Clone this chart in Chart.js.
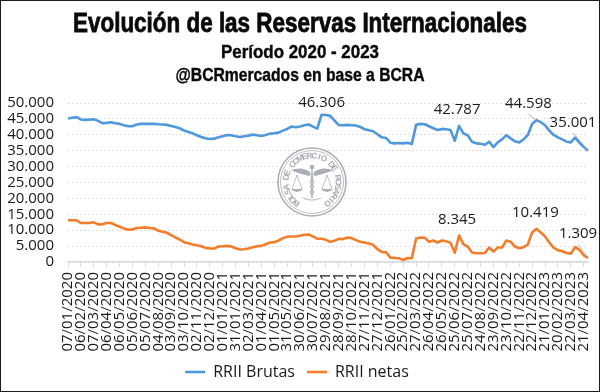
<!DOCTYPE html>
<html><head><meta charset="utf-8">
<style>html,body{margin:0;padding:0;background:#fff}#w{position:relative;width:600px;height:392px}canvas{position:absolute;left:0;top:0}#f{position:absolute;inset:0;border:1.5px solid #1c1c1c;box-sizing:border-box;pointer-events:none}</style>
<script src="https://cdn.jsdelivr.net/npm/chart.js@4"></script></head>
<body><div id="w"><canvas id="c" width="600" height="392"></canvas><div id="f"></div></div>
<script>
const tickLabels=["07/01/2020","06/02/2020","07/03/2020","06/04/2020","06/05/2020","05/06/2020","05/07/2020","04/08/2020","03/09/2020","03/10/2020","02/11/2020","02/12/2020","01/01/2021","31/01/2021","02/03/2021","01/04/2021","01/05/2021","31/05/2021","30/06/2021","30/07/2021","29/08/2021","28/09/2021","28/10/2021","27/11/2021","27/12/2021","26/01/2022","25/02/2022","27/03/2022","26/04/2022","26/05/2022","25/06/2022","25/07/2022","24/08/2022","23/09/2022","23/10/2022","22/11/2022","22/12/2022","21/01/2023","20/02/2023","22/03/2023","21/04/2023"];
const brutas=[45127,45338,45550,44810,44704,44757,44915,44387,43647,43753,43964,43647,43436,43013,42696,42696,43224,43436,43436,43436,43489,43330,43224,43119,42801,42484,42061,41322,40899,40476,39842,39313,38890,38679,38785,39207,39525,39948,39842,39525,39313,39525,39736,
40053,39842,39630,39948,40370,40476,40687,41322,41850,42590,42379,42590,43013,43224,42590,41956,46306,46250,45950,44500,43013,43013,43119,43013,42907,42484,41745,41427,41110,40159,39208,38996,37516,37305,37410,37305,37516,37093,
43119,43436,43330,42696,42061,41533,41850,41745,41533,38150,42787,40476,39842,37833,37305,37199,36882,37833,36142,37622,38574,39842,38890,37939,37622,38574,39948,43436,44598,43964,43013,41322,39948,39207,38574,37833,37622,39102,37516,36248,35001];
const netas=[13107,13107,13107,12261,12261,12261,12473,11838,11838,12261,12261,11627,11099,10570,10147,10253,10676,10781,10887,10676,10570,9830,9513,9196,8456,7716,7082,6236,5919,5496,5285,4968,4439,4228,4228,4862,4968,5074,4862,4334,3911,4017,4228,
4651,4968,5074,5602,6131,6236,6765,7505,7928,8033,8033,8245,8562,8667,8033,7293,7293,6976,6342,6659,7293,7188,7716,7505,6870,6342,6131,5814,5391,4017,3171,3065,1374,1268,1163,634,1268,1163,
7400,7716,7610,6342,6765,6131,6765,6553,6025,2900,8345,5602,4862,2960,2748,2748,2854,4545,3277,4545,4545,6765,6342,4862,4334,4651,5496,9302,10419,9302,8033,6131,4545,3700,3382,2854,2642,4651,3805,2114,1309];
const pointsPerTick=3;
const labels=brutas.map((_,i)=>tickLabels[i/pointsPerTick]||"");
const titleText="Evolución de las Reservas Internacionales";
const subtitleLines=["Período 2020 - 2023","@BCRmercados en base a BCRA"];
const seriesNames=["RRII Brutas","RRII netas"];
const sealText="BOLSA DE COMERCIO DE ROSARIO";
const BLUE="#5097DD",ORANGE="#F47D2C",NUM='"Open Sans",sans-serif',COND='"Liberation Sans",sans-serif';

const headings=[
 {t:titleText,y:25,size:27,w:454,sw:.8},
 {t:subtitleLines[0],y:53,size:18,w:158,sw:.4},
 {t:subtitleLines[1],y:76,size:18,w:249,sw:.4}
];
// callouts: dataset, point, label offset from the point, optional leader start offset
const callouts=[
 {d:0,i:59,dx:0,dy:-12},
 {d:0,i:91,dx:-2,dy:-16},
 {d:0,i:109,dx:-8,dy:-16,lx:-8,ly:-6},
 {d:0,i:121,dx:-15,dy:-28,lx:-15,ly:-18},
 {d:1,i:91,dx:-2,dy:-16},
 {d:1,i:109,dx:-1,dy:-16},
 {d:1,i:121,dx:-10,dy:-24,lx:-10,ly:-13}
];
const fmt=v=>String(Math.round(v)).replace(/\B(?=(\d{3})+$)/g,".");

const heading={id:"heading",afterDraw(c){
 const x=c.ctx;x.save();x.fillStyle="#0a0a0a";x.strokeStyle="#0a0a0a";x.textAlign="center";x.textBaseline="middle";
 headings.forEach(h=>{x.font='bold '+h.size+'px '+COND;x.lineWidth=h.sw;x.fillText(h.t,300,h.y,h.w);x.strokeText(h.t,300,h.y,h.w);});
 x.restore();
}};
const seal={id:"seal",beforeDatasetsDraw(c){
 const x=c.ctx,cx=312,cy=182,R=34,col="#a9adb5";
 x.save();x.strokeStyle=col;x.fillStyle=col;
 x.lineWidth=1.6;x.beginPath();x.arc(cx,cy,R,0,7);x.stroke();
 x.fillStyle="#fff";x.beginPath();x.arc(cx,cy,R-1,0,7);x.fill();x.fillStyle=col;
 x.lineWidth=.8;x.beginPath();x.arc(cx,cy,R-2.5,0,7);x.stroke();
 x.font='bold 8.4px "Liberation Sans",sans-serif';x.textAlign="center";x.textBaseline="middle";
 const n=sealText.length,a0=-Math.PI*1.3,span=Math.PI*1.6;
 for(let k=0;k<n;k++){const a=a0+span*k/(n-1);x.save();x.translate(cx+Math.cos(a)*(R-8),cy+Math.sin(a)*(R-8));x.rotate(a+Math.PI/2);x.fillText(sealText[k],0,0);x.restore();}
 x.lineWidth=1.4;x.beginPath();x.moveTo(cx,cy-14);x.lineTo(cx,cy+16);x.stroke();
 x.beginPath();x.arc(cx,cy-15,2.2,0,7);x.fill();
 x.lineWidth=1;x.beginPath();x.moveTo(cx-3,cy-9);x.bezierCurveTo(cx+6,cy-5,cx-6,cy-1,cx,cy+2);x.bezierCurveTo(cx+6,cy+5,cx-6,cy+9,cx,cy+13);x.stroke();
 x.beginPath();x.moveTo(cx+3,cy-9);x.bezierCurveTo(cx-6,cy-5,cx+6,cy-1,cx,cy+2);x.bezierCurveTo(cx-6,cy+5,cx+6,cy+9,cx,cy+13);x.stroke();
 [-1,1].forEach(s=>{x.beginPath();x.moveTo(cx+s*2,cy-10);x.quadraticCurveTo(cx+s*10,cy-16,cx+s*21,cy-12);x.quadraticCurveTo(cx+s*13,cy-8,cx+s*2,cy-6);x.closePath();x.fill();
  const px=cx+s*15;x.lineWidth=.8;x.beginPath();x.moveTo(px,cy-7);x.lineTo(px-5,cy+7);x.moveTo(px,cy-7);x.lineTo(px+5,cy+7);x.stroke();
  x.beginPath();x.moveTo(px-6,cy+7);x.quadraticCurveTo(px,cy+13,px+6,cy+7);x.closePath();x.fill();});
 x.lineWidth=.9;x.beginPath();x.arc(cx,cy-4,22,Math.PI*.36,Math.PI*.64);x.stroke();
 x.restore();
}};
const callout={id:"callout",afterDatasetsDraw(c){
 const x=c.ctx;x.save();x.font='15px '+NUM;x.fillStyle="#1a1a1a";x.textAlign="center";x.textBaseline="middle";
 callouts.forEach(k=>{const p=c.getDatasetMeta(k.d).data[k.i];const v=c.data.datasets[k.d].data[k.i];
  x.fillText(fmt(v),p.x+k.dx,p.y+k.dy);
  if(k.lx!==undefined){x.strokeStyle="#a6a6a6";x.lineWidth=.8;x.beginPath();x.moveTo(p.x+k.lx,p.y+k.ly);x.lineTo(p.x,p.y);x.stroke();}
 });x.restore();
}};
new Chart(document.getElementById("c"),{type:"line",
 data:{labels,datasets:[
  {label:seriesNames[0],data:brutas,borderColor:BLUE,backgroundColor:BLUE,borderWidth:2.6,pointRadius:0,tension:0,borderJoinStyle:"round"},
  {label:seriesNames[1],data:netas,borderColor:ORANGE,backgroundColor:ORANGE,borderWidth:2.6,pointRadius:0,tension:0,borderJoinStyle:"round"}]},
 options:{responsive:false,animation:false,
  layout:{padding:{left:6,right:12,top:103,bottom:2}},
  plugins:{
   title:{display:false},subtitle:{display:false},
   legend:{position:"bottom",labels:{usePointStyle:true,pointStyle:"line",pointStyleWidth:20,boxHeight:2,color:"#1a1a1a",font:{family:NUM,size:16},padding:12},onClick:null},
   tooltip:{enabled:false}},
  scales:{
   x:{offset:false,afterBuildTicks:s=>{s.ticks=s.ticks.filter(t=>t.value%pointsPerTick===0);},
    afterFit:s=>{s.height=90;s.paddingLeft=0;s.paddingRight=0;},
    grid:{display:true,drawOnChartArea:false,drawTicks:true,tickLength:5,color:"#d9d9d9"},border:{color:"#d9d9d9",width:1.5},
    ticks:{autoSkip:false,minRotation:90,maxRotation:90,padding:5,color:"#1a1a1a",font:{family:NUM,size:15},callback:v=>tickLabels[v/pointsPerTick]}},
   y:{min:0,max:50000,afterFit:s=>{s.width=62;},
    grid:{color:"#dedede",tickLength:0,lineWidth:1},border:{display:false,dash:[2,2]},
    ticks:{autoSkip:false,stepSize:5000,padding:14,color:"#1a1a1a",font:{family:NUM,size:15},callback:v=>fmt(v)}}}},
 plugins:[seal,callout,heading]});
</script></body></html>
